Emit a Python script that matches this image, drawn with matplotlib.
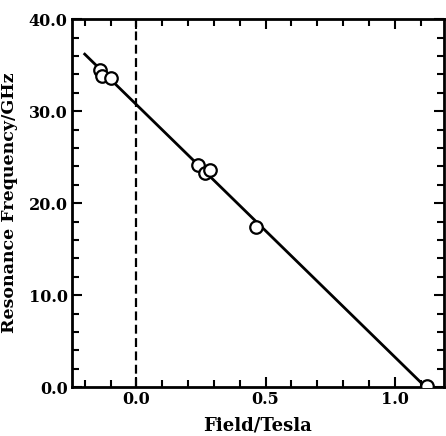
import numpy as np
import matplotlib.pyplot as plt
from matplotlib.ticker import MultipleLocator

# measured resonance points
field = [-0.142, -0.133, -0.100, 0.239, 0.265, 0.284, 0.465, 1.124]
freq = [34.5, 33.8, 33.6, 24.2, 23.3, 23.6, 17.4, 0.1]

# linear fit end points
fit_field = [-0.20, 1.12]
fit_freq = [36.2, 0.0]

plt.rcParams['font.family'] = ['DejaVu Serif']
plt.rcParams['font.weight'] = 'bold'

fig = plt.figure(figsize=(4.46, 4.36), dpi=100)
ax = fig.add_axes([0.161, 0.112, 0.834, 0.844])

ax.plot(fit_field, fit_freq, 'k-', lw=2)
ax.axvline(0.0, color='k', ls=(0, (4, 2)), lw=1.6)
ax.plot(field, freq, 'o', ms=9, mfc='white', mec='k', mew=1.6, zorder=3)

ax.set_xlim(-0.25, 1.19)
ax.set_ylim(0, 40)
ax.xaxis.set_major_locator(MultipleLocator(0.5))
ax.xaxis.set_minor_locator(MultipleLocator(0.1))
ax.yaxis.set_major_locator(MultipleLocator(10))
ax.yaxis.set_minor_locator(MultipleLocator(2))
ax.xaxis.set_major_formatter(plt.FormatStrFormatter('%.1f'))
ax.yaxis.set_major_formatter(plt.FormatStrFormatter('%.1f'))

ax.tick_params(which='both', direction='in', top=True, right=True, width=1.5, labelsize=11.5)
ax.tick_params(which='major', length=7, pad=3)
ax.tick_params(which='minor', length=5)
for s in ax.spines.values():
    s.set_linewidth(2)

ax.set_xlabel('Field/Tesla', fontsize=13, fontweight='bold', labelpad=6)
ax.set_ylabel('Resonance Frequency/GHz', fontsize=12.5, fontweight='bold', labelpad=8)

fig.savefig('out.png', dpi=100)
